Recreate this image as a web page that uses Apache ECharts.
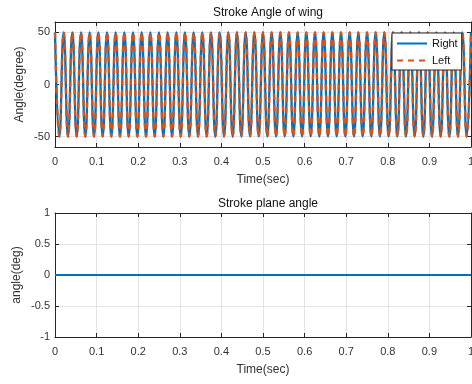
<!DOCTYPE html>
<html>
<head>
<meta charset="utf-8">
<script src="https://cdn.jsdelivr.net/npm/echarts@6/dist/echarts.min.js"></script>
<style>
  html, body { margin: 0; padding: 0; background: #fff; }
  #chart { width: 472px; height: 384px; }
</style>
</head>
<body>
<div id="chart"></div>
<script>
// Stroke angle turning points (peak / trough) over one second, in seconds
const strokeTimes = [
  0, 0.0104, 0.0208, 0.0313, 0.0417, 0.0521, 0.0625, 0.0729, 0.0833, 0.0938, 0.1042, 0.1146,
  0.125, 0.1354, 0.1458, 0.1563, 0.1667, 0.1771, 0.1875, 0.1979, 0.2083, 0.2188, 0.2292, 0.2396,
  0.25, 0.2604, 0.2708, 0.2813, 0.2917, 0.3021, 0.3125, 0.3229, 0.3333, 0.3438, 0.3542, 0.3646,
  0.375, 0.3854, 0.3958, 0.4063, 0.4167, 0.4271, 0.4375, 0.4479, 0.4583, 0.4688, 0.4792, 0.4896,
  0.5, 0.5104, 0.5208, 0.5313, 0.5417, 0.5521, 0.5625, 0.5729, 0.5833, 0.5938, 0.6042, 0.6146,
  0.625, 0.6354, 0.6458, 0.6563, 0.6667, 0.6771, 0.6875, 0.6979, 0.7083, 0.7188, 0.7292, 0.7396,
  0.75, 0.7604, 0.7708, 0.7813, 0.7917, 0.8021, 0.8125, 0.8229, 0.8333, 0.8438, 0.8542, 0.8646,
  0.875, 0.8854, 0.8958, 0.9063, 0.9167, 0.9271, 0.9375, 0.9479, 0.9583, 0.9688, 0.9792, 0.9896,
  1.0
];
// Right wing stroke angle (degrees) at each turning point
const rightAngle = [
  50, -50, 50, -50, 50, -50, 50, -50, 50, -50, 50, -50,
  50, -50, 50, -50, 50, -50, 50, -50, 50, -50, 50, -50,
  50, -50, 50, -50, 50, -50, 50, -50, 50, -50, 50, -50,
  50, -50, 50, -50, 50, -50, 50, -50, 50, -50, 50, -50,
  50, -50, 50, -50, 50, -50, 50, -50, 50, -50, 50, -50,
  50, -50, 50, -50, 50, -50, 50, -50, 50, -50, 50, -50,
  50, -50, 50, -50, 50, -50, 50, -50, 50, -50, 50, -50,
  50, -50, 50, -50, 50, -50, 50, -50, 50, -50, 50, -50,
  50
];
// Left wing stroke angle (degrees), symmetric with the right wing
const leftAngle = [
  50, -50, 50, -50, 50, -50, 50, -50, 50, -50, 50, -50,
  50, -50, 50, -50, 50, -50, 50, -50, 50, -50, 50, -50,
  50, -50, 50, -50, 50, -50, 50, -50, 50, -50, 50, -50,
  50, -50, 50, -50, 50, -50, 50, -50, 50, -50, 50, -50,
  50, -50, 50, -50, 50, -50, 50, -50, 50, -50, 50, -50,
  50, -50, 50, -50, 50, -50, 50, -50, 50, -50, 50, -50,
  50, -50, 50, -50, 50, -50, 50, -50, 50, -50, 50, -50,
  50, -50, 50, -50, 50, -50, 50, -50, 50, -50, 50, -50,
  50
];
// Stroke plane angle (degrees), constant
const planeTimes = [0, 1];
const planeAngle = [0, 0];

// Tick labels
const timeTicks = [0, 0.1, 0.2, 0.3, 0.4, 0.5, 0.6, 0.7, 0.8, 0.9, 1];
const strokeTicks = [-50, 0, 50];
const planeTicks = [-1, -0.5, 0, 0.5, 1];

const FONT = '"Liberation Sans", Arial, sans-serif';
const AXIS_COLOR = '#262626';
const TEXT_COLOR = '#333333';
const GRID_COLOR = '#e3e3e3';

const zip = (xs, ys) => xs.map((x, i) => [x, ys[i]]);

function xAxisPair(gridIndex, name) {
  return [
    {
      type: 'value', gridIndex, min: 0, max: 1, position: 'bottom',
      name, nameLocation: 'middle', nameGap: 27,
      nameTextStyle: { fontFamily: FONT, fontSize: 12, color: TEXT_COLOR },
      axisLine: { show: true, onZero: false, lineStyle: { color: AXIS_COLOR, width: 1 } },
      axisTick: { show: true, inside: true, length: 4, customValues: timeTicks, lineStyle: { color: AXIS_COLOR } },
      axisLabel: { customValues: timeTicks, margin: 9, fontFamily: FONT, fontSize: 11, color: TEXT_COLOR,
                   formatter: v => String(+v.toFixed(1)) },
      splitLine: { show: true, lineStyle: { color: GRID_COLOR, width: 1 } }
    },
    {
      type: 'value', gridIndex, min: 0, max: 1, position: 'top',
      axisLine: { show: true, onZero: false, lineStyle: { color: AXIS_COLOR, width: 1 } },
      axisTick: { show: true, inside: true, length: 4, customValues: timeTicks, lineStyle: { color: AXIS_COLOR } },
      axisLabel: { show: false },
      splitLine: { show: false }
    }
  ];
}

function yAxisPair(gridIndex, name, min, max, ticks, gap) {
  return [
    {
      type: 'value', gridIndex, min, max, position: 'left',
      name, nameLocation: 'middle', nameGap: gap, nameRotate: 90, nameMoveOverlap: false,
      nameTextStyle: { fontFamily: FONT, fontSize: 12, color: TEXT_COLOR },
      axisLine: { show: true, onZero: false, lineStyle: { color: AXIS_COLOR, width: 1 } },
      axisTick: { show: true, inside: true, length: 4, customValues: ticks, lineStyle: { color: AXIS_COLOR } },
      axisLabel: { customValues: ticks, margin: 5, fontFamily: FONT, fontSize: 11, color: TEXT_COLOR },
      splitLine: { show: true, lineStyle: { color: GRID_COLOR, width: 1 } }
    },
    {
      type: 'value', gridIndex, min, max, position: 'right',
      axisLine: { show: true, onZero: false, lineStyle: { color: AXIS_COLOR, width: 1 } },
      axisTick: { show: true, inside: true, length: 4, customValues: ticks, lineStyle: { color: AXIS_COLOR } },
      axisLabel: { show: false },
      splitLine: { show: false }
    }
  ];
}

const chart = echarts.init(document.getElementById('chart'), null, { renderer: 'canvas' });

chart.setOption({
  animation: false,
  backgroundColor: '#ffffff',
  title: [
    { text: 'Stroke Angle of wing', left: 263, top: 2, textAlign: 'center',
      textStyle: { fontFamily: FONT, fontSize: 12, fontWeight: 'normal', color: '#111' } },
    { text: 'Stroke plane angle', left: 263, top: 193, textAlign: 'center',
      textStyle: { fontFamily: FONT, fontSize: 12, fontWeight: 'normal', color: '#111' } }
  ],
  grid: [
    { left: 55, top: 22, width: 416, height: 125, outerBoundsMode: 'none', containLabel: false },
    { left: 55, top: 213, width: 416, height: 124, outerBoundsMode: 'none', containLabel: false }
  ],
  legend: {
    data: ['Right', 'Left'],
    orient: 'vertical',
    left: 392, top: 33,
    itemWidth: 30, itemHeight: 10, itemGap: 6,
    padding: [5, 4, 4, 4],
    backgroundColor: '#ffffff',
    borderColor: AXIS_COLOR, borderWidth: 1,
    itemStyle: { opacity: 0 },
    textStyle: { fontFamily: FONT, fontSize: 11, color: '#111' }
  },
  xAxis: [...xAxisPair(0, 'Time(sec)'), ...xAxisPair(1, 'Time(sec)')],
  yAxis: [
    ...yAxisPair(0, 'Angle(degree)', -60, 60, strokeTicks, 29),
    ...yAxisPair(1, 'angle(deg)', -1, 1, planeTicks, 32)
  ],
  series: [
    {
      name: 'Right', type: 'line', xAxisIndex: 0, yAxisIndex: 0,
      data: zip(strokeTimes, rightAngle), smooth: 0.5, showSymbol: false, symbol: 'none',
      lineStyle: { color: '#0072BD', width: 2.3 }, itemStyle: { color: '#0072BD' }
    },
    {
      name: 'Left', type: 'line', xAxisIndex: 0, yAxisIndex: 0,
      data: zip(strokeTimes, leftAngle), smooth: 0.5, showSymbol: false, symbol: 'none',
      lineStyle: { color: '#D95319', width: 2.3, type: [6, 5] }, itemStyle: { color: '#D95319' }
    },
    {
      name: 'Plane', type: 'line', xAxisIndex: 2, yAxisIndex: 2,
      data: zip(planeTimes, planeAngle), showSymbol: false, symbol: 'none',
      lineStyle: { color: '#0072BD', width: 2 }, itemStyle: { color: '#0072BD' }
    }
  ]
});
</script>
</body>
</html>
